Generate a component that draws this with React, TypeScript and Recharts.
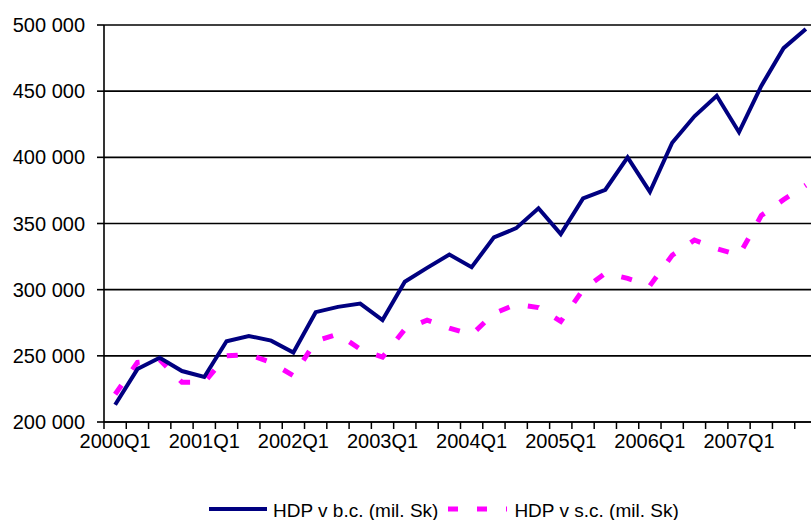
import { LineChart, Line, XAxis, YAxis, CartesianGrid } from 'recharts'

const years = [2000, 2001, 2002, 2003, 2004, 2005, 2006, 2007]
const quarterNames = ['Q1', 'Q2', 'Q3', 'Q4']
const quarters = years.flatMap((y) => quarterNames.map((q) => `${y}${q}`))

// HDP v bežných cenách (mil. Sk)
const hdpBc = [
  213000, 240000, 248500, 238500, 234000, 261000, 265000, 261500,
  252500, 283000, 287000, 289500, 277000, 306000, 316500, 326500,
  317000, 339500, 346500, 361500, 342000, 369000, 375500, 400000,
  374000, 411000, 431000, 446500, 419000, 454000, 482500, 497000,
]

// HDP v stálych cenách (mil. Sk)
const hdpSc = [
  221000, 245000, 247000, 230000, 230000, 250000, 251000, 245000,
  235000, 261000, 266500, 255000, 249000, 270000, 277000, 271000,
  266000, 282000, 289000, 286500, 276000, 300000, 312500, 308500,
  303000, 326000, 337500, 331000, 326000, 356000, 368000, 379000,
]

const yTicks = [200000, 250000, 300000, 350000, 400000, 450000, 500000]

const seriesNames = ['HDP v b.c. (mil. Sk)', 'HDP v s.c. (mil. Sk)']

const data = quarters.map((q, i) => ({ q, bc: hdpBc[i], sc: hdpSc[i] }))

const FONT = '"Liberation Sans", Arial, sans-serif'
const NAVY = '#000080'
const PINK = '#FF00FF'

const CHART_W = 830
const CHART_H = 520
const PLOT_LEFT = 104
const PLOT_RIGHT = 817
const AXIS_Y = 422
const BAND = (PLOT_RIGHT - PLOT_LEFT) / quarters.length

const fmt = (v: number) => String(v).replace(/\B(?=(\d{3})+(?!\d))/g, ' ')

function QuarterTick(props: any) {
  const { x, index, payload } = props
  const bx = x - BAND / 2
  return (
    <g>
      <line x1={bx} x2={bx} y1={AXIS_Y} y2={AXIS_Y + 7} stroke="#000" strokeWidth={1.5} />
      {index % 4 === 0 && (
        <text x={x} y={AXIS_Y + 26} textAnchor="middle" fill="#000" fontSize={20} fontFamily={FONT}>
          {payload.value}
        </text>
      )}
    </g>
  )
}

function LegendBox() {
  return (
    <div
      style={{
        position: 'absolute',
        left: 209,
        top: 498,
        height: 26,
        display: 'flex',
        alignItems: 'center',
        fontFamily: FONT,
        fontSize: 19,
        color: '#000',
        whiteSpace: 'nowrap',
      }}
    >
      <svg width={58} height={10} style={{ marginTop: -5 }}>
        <line x1={0} x2={58} y1={5} y2={5} stroke={NAVY} strokeWidth={4} />
      </svg>
      <span style={{ marginLeft: 6 }}>{seriesNames[0]}</span>
      <svg width={59} height={10} style={{ marginLeft: 10, marginTop: -5 }}>
        <line x1={0} x2={59} y1={5} y2={5} stroke={PINK} strokeWidth={5} strokeDasharray="10 19" />
      </svg>
      <span style={{ marginLeft: 7 }}>{seriesNames[1]}</span>
    </div>
  )
}

export default function App() {
  return (
    <div
      style={{
        position: 'absolute',
        left: 0,
        top: 0,
        width: 811,
        height: 520,
        overflow: 'hidden',
        background: '#fff',
      }}
    >
      <LineChart
        width={CHART_W}
        height={CHART_H}
        data={data}
        margin={{ top: 25, right: CHART_W - PLOT_RIGHT, left: 0, bottom: 0 }}
      >
        <CartesianGrid horizontal vertical={false} stroke="#000" strokeWidth={1.6} />
        <XAxis
          dataKey="q"
          scale="band"
          interval={0}
          height={CHART_H - AXIS_Y}
          axisLine={{ stroke: '#000', strokeWidth: 1.6 }}
          tickLine={false}
          tick={<QuarterTick />}
        />
        <YAxis
          width={PLOT_LEFT}
          domain={[200000, 500000]}
          ticks={yTicks}
          tickFormatter={fmt}
          tickSize={7}
          tickMargin={12}
          axisLine={{ stroke: '#000', strokeWidth: 1.6 }}
          tickLine={{ stroke: '#000', strokeWidth: 1.6 }}
          tick={{ fill: '#000', fontSize: 20, fontFamily: FONT }}
        />
        <Line
          type="linear"
          dataKey="sc"
          name={seriesNames[1]}
          stroke={PINK}
          strokeWidth={5}
          strokeDasharray="11 19"
          dot={false}
          activeDot={false}
          isAnimationActive={false}
        />
        <Line
          type="linear"
          dataKey="bc"
          name={seriesNames[0]}
          stroke={NAVY}
          strokeWidth={4}
          dot={false}
          activeDot={false}
          isAnimationActive={false}
        />
      </LineChart>
      <LegendBox />
    </div>
  )
}
